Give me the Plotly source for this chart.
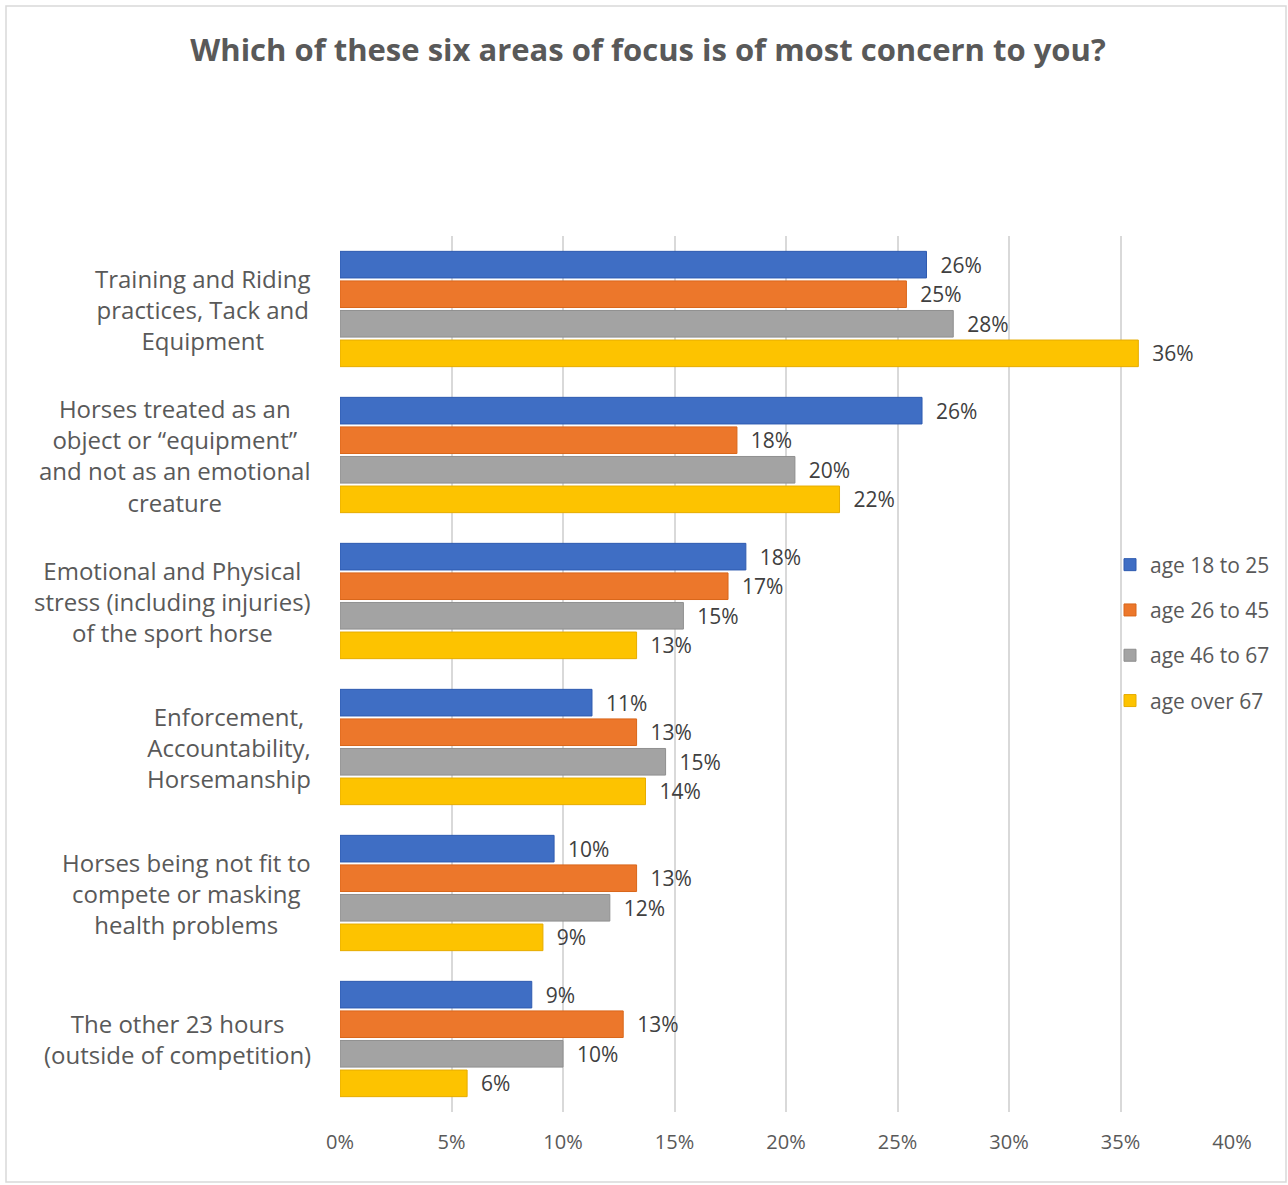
import plotly.graph_objects as go

categories = [
    "Training and Riding<br>practices, Tack and<br>Equipment",
    "Horses treated as an<br>object or “equipment”<br>and not as an emotional<br>creature",
    "Emotional and Physical<br>stress (including injuries)<br>of the sport horse",
    "Enforcement,<br>Accountability,<br>Horsemanship",
    "Horses being not fit to<br>compete or masking<br>health problems",
    "The other 23 hours<br>(outside of competition)",
]
series_names = ["age 18 to 25", "age 26 to 45", "age 46 to 67", "age over 67"]
age_18_25 = [0.263, 0.261, 0.182, 0.113, 0.096, 0.086]
age_26_45 = [0.254, 0.178, 0.174, 0.133, 0.133, 0.127]
age_46_67 = [0.275, 0.204, 0.154, 0.146, 0.121, 0.100]
age_over_67 = [0.358, 0.224, 0.133, 0.137, 0.091, 0.057]
tick_vals = [0, 0.05, 0.10, 0.15, 0.20, 0.25, 0.30, 0.35, 0.40]
tick_text = ["0%", "5%", "10%", "15%", "20%", "25%", "30%", "35%", "40%"]

colors = ["#3F6EC4", "#EC772B", "#A3A3A3", "#FDC300"]
line_colors = ["#2F5BB0", "#D9661A", "#8F8F8F", "#E6AC00"]
series_vals = [age_18_25, age_26_45, age_46_67, age_over_67]

W, H = 1288, 1185
L, R, T, B = 340, 56, 236, 73
pw, ph = W - L - R, H - T - B

fig = go.Figure()
for name, vals, c, lc in zip(series_names, series_vals, colors, line_colors):
    fig.add_trace(go.Bar(
        y=categories, x=vals, name=name, orientation="h", legendgroup=name,
        marker=dict(color=c, line=dict(color=lc, width=1)),
        texttemplate="\u00a0\u00a0%{x:.0%}", textposition="outside",
        constraintext="none",
        textfont=dict(family="Open Sans", size=21, color="#404040"),
        cliponaxis=False,
    ))

annotations = []
for cat in categories:
    annotations.append(dict(
        x=-0.03, xref="paper", y=cat, yref="y", text=cat, showarrow=False,
        xanchor="right", yanchor="middle", align="center",
        font=dict(family="Open Sans", size=24, color="#595959"),
    ))

def px2paper_x(px):
    return (px - L) / pw

def px2paper_y(py):
    return 1 - (py - T) / ph

shapes = [dict(
    type="rect", xref="paper", yref="paper",
    x0=px2paper_x(6), x1=px2paper_x(1286), y0=px2paper_y(1182), y1=px2paper_y(6),
    line=dict(color="#D9D9D9", width=1.5), fillcolor="rgba(0,0,0,0)", layer="below",
)]

fig.update_layout(
    width=W, height=H,
    margin=dict(l=L, r=R, t=T, b=B),
    paper_bgcolor="white", plot_bgcolor="white",
    barmode="group", bargap=0.19, bargroupgap=0.1,
    title=dict(
        text="<b>Which of these six areas of focus is of most concern to you?</b>",
        x=648 / W, xref="container", xanchor="center", y=1 - 50 / H, yanchor="middle",
        font=dict(family="Open Sans", size=31, color="#595959"),
    ),
    xaxis=dict(
        range=[0, 0.40], tickvals=tick_vals, ticktext=tick_text,
        showgrid=True, gridcolor="#D9D9D9", gridwidth=1.5,
        zeroline=False, showline=False, ticks="", ticklen=0,
        tickfont=dict(family="Open Sans", size=20, color="#595959"),
        ticklabelstandoff=16,
    ),
    yaxis=dict(
        autorange="reversed", showticklabels=False, showgrid=False,
        showline=False, zeroline=False, ticks="",
    ),
    legend=dict(
        x=px2paper_x(1110), xanchor="left", y=px2paper_y(633), yanchor="middle",
        font=dict(family="Open Sans", size=21, color="#595959"),
        bgcolor="rgba(0,0,0,0)", tracegroupgap=15, itemwidth=30,
        traceorder="grouped",
    ),
    annotations=annotations,
    shapes=shapes,
    showlegend=True,
)

fig.write_html("out.html")
